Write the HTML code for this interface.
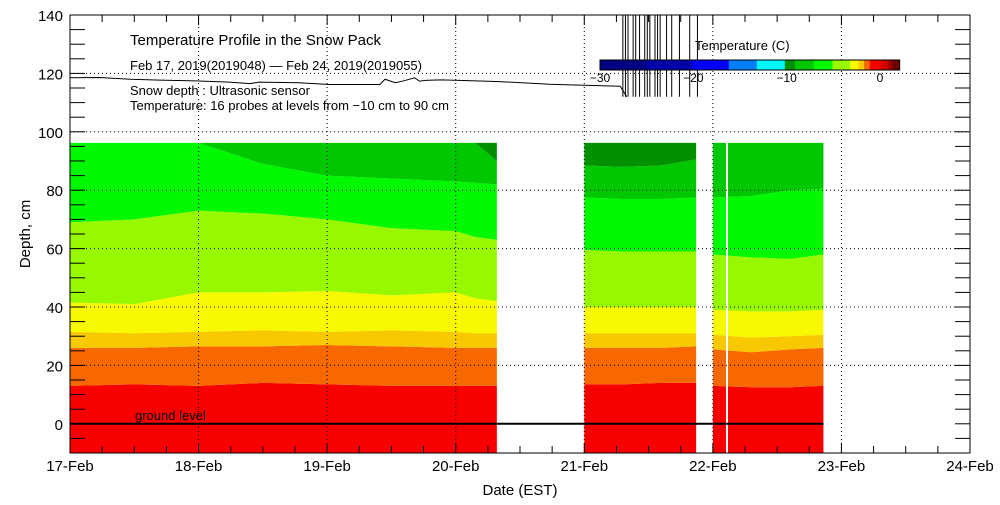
<!DOCTYPE html>
<html><head><meta charset="utf-8"><style>
body{margin:0;background:#fff;width:1000px;height:500px;overflow:hidden}
svg text{font-family:"Liberation Sans",sans-serif;fill:#000}
</style></head><body>
<svg id="c" width="1000" height="500" viewBox="0 0 1000 500" xmlns="http://www.w3.org/2000/svg"></svg>
<script>
// ---- data ----
const bandColors = ["#f80000","#f86800","#f8c800","#f8f800","#98f800","#00f800","#00c800","#009000"];
// segment 1 (days from Feb 17)
const seg1Times = [0,0.5,1,1.5,2,2.5,3,3.15,3.32];
const seg1RedTop   = [13,13.5,13,14,13.5,13,13,13,13];
const seg1OrangeTop= [26,26,26.5,26.5,27,26.5,26,26,26];
const seg1AmberTop = [31.5,31,31.5,32,31.5,32,31.5,31,31];
const seg1YellowTop= [41.5,41,45,45,45.5,44,45,43,42];
const seg1YgTop    = [69,70,73,72,70,67,66,64,63];
const seg1GreenTop = [96.2,96.2,96.2,89,85,84,83,82.5,82];
const seg1DkTop    = [96.2,96.2,96.2,96.2,96.2,96.2,96.2,96.2,90];
const seg1DarkestTop=[96.2,96.2,96.2,96.2,96.2,96.2,96.2,96.2,96.2];
// segment 2
const seg2Times = [4.0,4.3,4.6,4.87];
const seg2RedTop   = [13.5,13.5,14,14];
const seg2OrangeTop= [26,26,26,26.5];
const seg2AmberTop = [31,31,31,31];
const seg2YellowTop= [40,40,40,40];
const seg2YgTop    = [59.5,59,59,59];
const seg2GreenTop = [77.5,77,77,77.5];
const seg2DkTop    = [88.5,88,88.5,90.5];
const seg2DarkestTop=[96.2,96.2,96.2,96.2];
// segment 3
const seg3Times = [5.0,5.3,5.6,5.86];
const seg3RedTop   = [13,12.5,12.5,13];
const seg3OrangeTop= [25.5,24.5,25.5,26];
const seg3AmberTop = [30.5,29.5,30,30.5];
const seg3YellowTop= [39,38.5,38.5,39];
const seg3YgTop    = [58,57,56.5,58];
const seg3GreenTop = [77.5,78,80,80.5];
const seg3DkTop    = [96.2,96.2,96.2,96.2];
const seg3DarkestTop=[96.2,96.2,96.2,96.2];
// snow depth
const snowTimes = [0,0.23,0.47,0.7,0.93,1.0,1.24,1.4,1.47,1.78,2.02,2.41,2.45,2.53,2.6,2.68,2.72,2.76,2.88,3.03,3.34,3.73,3.96,4.28,4.33];
const snowDepth = [118.5,118.6,118,117.7,117.5,117.4,117,116.5,117,116.8,116.2,116.2,118,116.8,117.5,118.5,117.3,117.6,117.8,117.6,117.2,116.3,116.0,115.6,112];
const spikeTimes = [4.3,4.32,4.34,4.38,4.4,4.43,4.47,4.49,4.51,4.55,4.57,4.59,4.64,4.68,4.74,4.82,4.88];
const spikeValues = [150,150,150,150,150,150,150,150,150,150,150,150,150,150,150,150,150];
const dayLabels = ["17-Feb","18-Feb","19-Feb","20-Feb","21-Feb","22-Feb","23-Feb","24-Feb"];
const yTicks = [0,20,40,60,80,100,120,140];
const cbEdges = [-30,-25,-20.1,-16.2,-13.2,-10.2,-9.1,-7.1,-5.1,-3.2,-2.3,-1.7,-1.1,0.1,0.9,1.3,2.1];
const cbColors = ["#000080","#0000a8","#0000f8","#0080f8","#00f8f8","#009000","#00c800","#00f800","#98f800","#f8f800","#f8c800","#f86800","#f80000","#d00000","#a00000","#700000"];
const cbTicks = [-30,-20,-10,0];

// ---- axes ----
const X0=70,X1=970,Y0=453,Y1=15;
const xs=d=>X0+d*(X1-X0)/7;
const ys=v=>Y0-(v+10)*(Y0-Y1)/150;
const cb=t=>600+(t+30)*280/30;
const svg=document.getElementById('c');
const NS="http://www.w3.org/2000/svg";
function mk(tag,attrs,parent){const e=document.createElementNS(NS,tag);for(const k in attrs)e.setAttribute(k,attrs[k]);(parent||svg).appendChild(e);return e;}

const clip=mk('clipPath',{id:'pc'});mk('rect',{x:X0,y:Y1,width:X1-X0,height:Y0-Y1},clip);

function drawSeg(times,tops,name){
  const g=mk('g',{});
  
  
  let lower=times.map(()=>-10);
  tops.forEach((top,i)=>{
    let pts=times.map((t,j)=>xs(t)+','+ys(top[j]));
    for(let j=times.length-1;j>=0;j--)pts.push(xs(times[j])+','+ys(lower[j]));
    const p=mk('polygon',{points:pts.join(' '),fill:bandColors[i]},g);
    
    
    lower=top;
  });
}
drawSeg(seg1Times,[seg1RedTop,seg1OrangeTop,seg1AmberTop,seg1YellowTop,seg1YgTop,seg1GreenTop,seg1DkTop,seg1DarkestTop],'segment-1');
drawSeg(seg2Times,[seg2RedTop,seg2OrangeTop,seg2AmberTop,seg2YellowTop,seg2YgTop,seg2GreenTop,seg2DkTop,seg2DarkestTop],'segment-2');
drawSeg(seg3Times,[seg3RedTop,seg3OrangeTop,seg3AmberTop,seg3YellowTop,seg3YgTop,seg3GreenTop,seg3DkTop,seg3DarkestTop],'segment-3');
const gap=mk('line',{x1:xs(5.11),x2:xs(5.11),y1:ys(96.2),y2:Y0,stroke:'#fff','stroke-width':2});



// grid
for(let d=1;d<7;d++){const l=mk('line',{x1:xs(d),x2:xs(d),y1:Y1,y2:Y0,stroke:'#000','stroke-dasharray':'1,3'});

}
yTicks.forEach(v=>{if(v>0&&v<140){const l=mk('line',{x1:X0,x2:X1,y1:ys(v),y2:ys(v),stroke:'#000','stroke-dasharray':'1,3'});

}});

// ground line
const gl=mk('line',{x1:X0,x2:xs(5.86),y1:ys(0),y2:ys(0),stroke:'#000','stroke-width':2});


const glt=mk('text',{x:135,y:420,'font-size':13});glt.textContent='ground level';



// snow depth line
const sl=mk('polyline',{points:snowTimes.map((t,i)=>xs(t)+','+ys(snowDepth[i])).join(' '),fill:'none',stroke:'#000','stroke-width':1,'clip-path':'url(#pc)'});


spikeTimes.forEach((t,i)=>{const s=mk('line',{x1:xs(t),x2:xs(t),y1:ys(112),y2:ys(spikeValues[i]),stroke:'#000','clip-path':'url(#pc)'});

});

// frame & ticks
const fr=mk('rect',{x:X0,y:Y1,width:X1-X0,height:Y0-Y1,fill:'none',stroke:'#000'});


for(let q=1;q<28;q++){const x=xs(q/4),len=q%4?7:10;
 mk('line',{x1:x,x2:x,y1:Y0,y2:Y0-len,stroke:'#000'});mk('line',{x1:x,x2:x,y1:Y1,y2:Y1+len,stroke:'#000'});}
for(let v=-5;v<140;v+=5){const y=ys(v);
 mk('line',{x1:X0,x2:X0+15,y1:y,y2:y,stroke:'#000'});mk('line',{x1:X1,x2:X1-15,y1:y,y2:y,stroke:'#000'});}
dayLabels.forEach((lab,i)=>{const t=mk('text',{x:xs(i),y:471,'font-size':15,'text-anchor':'middle'});t.textContent=lab;

});
yTicks.forEach(v=>{const t=mk('text',{x:63,y:ys(v)+6,'font-size':15,'text-anchor':'end'});t.textContent=v;

});
const xt=mk('text',{x:520,y:495,'font-size':15,'text-anchor':'middle'});xt.textContent='Date (EST)';


const yt=mk('text',{x:0,y:0,'font-size':15,'text-anchor':'middle',transform:'translate(30,234) rotate(-90)'});yt.textContent='Depth, cm';



// titles
[['Temperature Profile in the Snow Pack',130,45,15,'chart-title'],['Feb 17, 2019(2019048) — Feb 24, 2019(2019055)',130,70,13,'date-range'],['Snow depth : Ultrasonic sensor',130,95,13,'snow-depth-note'],['Temperature: 16 probes at levels from −10 cm to 90 cm',130,110,13,'probe-note']].forEach(a=>{
 const t=mk('text',{x:a[1],y:a[2],'font-size':a[3]});t.textContent=a[0];
 
 });

// colorbar
const cbg=mk('g',{});


cbColors.forEach((c,i)=>{const r=mk('rect',{x:cb(cbEdges[i]),y:60,width:cb(cbEdges[i+1])-cb(cbEdges[i])+0.5,height:10,fill:c},cbg);

});
mk('rect',{x:600,y:60,width:cb(cbEdges[cbEdges.length-1])-600,height:10,fill:'none',stroke:'#000'},cbg);
cbTicks.forEach(v=>{const t=mk('text',{x:cb(v),y:82,'font-size':12,'text-anchor':'middle'},cbg);t.textContent=v===0?'0':'−'+Math.abs(v);

});
const cbt=mk('text',{x:695,y:50,'font-size':13},cbg);cbt.textContent='Temperature (C)';


</script>
</body></html>
